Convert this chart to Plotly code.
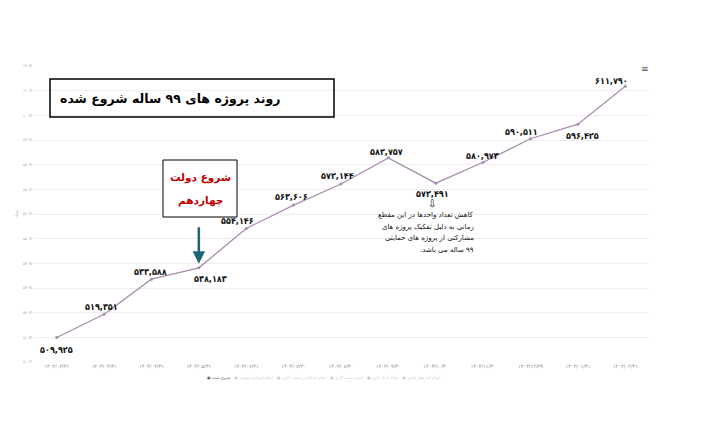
import plotly.graph_objects as go

# data
dates = ['۱۴۰۳/۰۲/۳۱', '۱۴۰۳/۰۳/۳۱', '۱۴۰۳/۰۴/۳۱', '۱۴۰۳/۰۵/۳۱', '۱۴۰۳/۰۶/۳۱',
         '۱۴۰۳/۰۷/۳۰', '۱۴۰۳/۰۸/۳۰', '۱۴۰۳/۰۹/۳۰', '۱۴۰۳/۱۰/۳۰', '۱۴۰۳/۱۱/۳۰',
         '۱۴۰۳/۱۲/۲۹', '۱۴۰۴/۰۱/۳۱', '۱۴۰۴/۰۲/۳۱']
started = [509925, 519351, 533588, 538183, 554146, 563606, 572144,
           582757, 572491, 580973, 590511, 596425, 611790]
series_name = 'شروع شده'
hidden_series = ['اتمام قولنامه نویسی', 'اتمام اسکلت و سفت کاری', 'اتمام سفت کاری',
                 'اتمام نازک کاری', 'اتمام لایه های پایانی']
y_ticks = list(range(500000, 620001, 10000))
note_lines = ['کاهش تعداد واحدها در این مقطع', 'زمانی به دلیل تفکیک پروژه های',
              'مشارکتی از پروژه های حمایتی', '۹۹ ساله می باشد.']

# label offsets (px) for each data label
label_shift = [(0, -12), (-3, 7), (-1, 7), (12, -11), (-9, 7), (-2, 8), (-4, 8),
               (-2, 6), (-3, -11), (-1, 6), (-9, 7), (5, -12), (-14, 5)]

FA = str.maketrans('0123456789', '۰۱۲۳۴۵۶۷۸۹')
def fa(n):
    return f'{n:,}'.translate(FA)

RLM = '\u200f'

# plot area on screen (page is drawn 8px in from the corner)
OFF = 8
L, R, T, B = 33, 649, 66, 362
def px(x):
    return (x - L) / (R - L)
def py(y):
    return (B - y) / (B - T)

FONT = 'DejaVu Sans'
NUMFONT = 'DejaVu Sans Condensed, DejaVu Sans'
LINE = '#a98bb0'

fig = go.Figure()
fig.add_trace(go.Scatter(x=dates, y=started, mode='lines+markers', name=series_name,
                         line=dict(color=LINE, width=1.3),
                         marker=dict(color=LINE, size=3)))

ann = []
for i, (d, v) in enumerate(zip(dates, started)):
    ann.append(dict(x=d, y=v, xref='x', yref='y', text='<b>' + fa(v) + '</b>',
                    showarrow=False, xshift=label_shift[i][0], yshift=label_shift[i][1],
                    xanchor='center', yanchor='middle',
                    font=dict(family=NUMFONT, size=9, color='#111')))

# title box
ann.append(dict(x=px(170), y=py(98), xref='paper', yref='paper', showarrow=False,
                xanchor='center', yanchor='middle',
                text='<b>روند پروژه های ۹۹ ساله شروع شده</b>',
                font=dict(family=FONT, size=12.5, color='#000')))

# 14th government box
for txt, yy in [('شروع دولت', 177), ('چهاردهم', 201)]:
    ann.append(dict(x=px(200), y=py(yy), xref='paper', yref='paper', showarrow=False,
                    xanchor='center', yanchor='middle', text='<b>' + txt + '</b>',
                    font=dict(family=FONT, size=10.5, color='#c00000')))
ann.append(dict(x=dates[3], y=started[3], xref='x', yref='y', text='', showarrow=True,
                ax=0, ay=-42, arrowhead=2, arrowsize=1, arrowwidth=2.5,
                arrowcolor='#1f6477', standoff=4))

# note on the dip
ann.append(dict(x=px(432), y=py(203), xref='paper', yref='paper', showarrow=False,
                xanchor='center', yanchor='middle',
                text='⇩', font=dict(family=FONT, size=10, color='#000')))
for i, line in enumerate(note_lines):
    ann.append(dict(x=px(476), y=py(215 + 11.5 * i), xref='paper', yref='paper',
                    showarrow=False, xanchor='right', yanchor='middle',
                    text=RLM + line + RLM,
                    font=dict(family=FONT, size=7, color='#111')))

# menu icon
ann.append(dict(x=px(645), y=py(69), xref='paper', yref='paper', showarrow=False,
                xanchor='center', yanchor='middle',
                text='≡', font=dict(family=FONT, size=9, color='#555')))

# legend row (hidden series greyed out)
items = ['<span style="color:#666">● ' + series_name + '</span>\u200e']
items += ['<span style="color:#ccc">● ' + n + '</span>\u200e' for n in hidden_series]
ann.append(dict(x=px(205), y=py(378), xref='paper', yref='paper', showarrow=False,
                xanchor='left', yanchor='middle', text='   '.join(items),
                font=dict(family=FONT, size=4, color='#888')))

fig.update_layout(
    width=720, height=422,
    margin=dict(l=L - OFF, r=720 - R + OFF, t=T - OFF, b=422 - B + OFF),
    paper_bgcolor='white', plot_bgcolor='white',
    annotations=ann,
    shapes=[dict(type='rect', xref='paper', yref='paper',
                 x0=px(50), x1=px(334), y0=py(117), y1=py(79),
                 line=dict(color='#000', width=1.5), fillcolor='rgba(0,0,0,0)'),
            dict(type='rect', xref='paper', yref='paper',
                 x0=px(163), x1=px(237), y0=py(217), y1=py(160),
                 line=dict(color='#000', width=1), fillcolor='white', layer='above')],
    showlegend=False,
    xaxis=dict(type='category', range=[-0.5, len(dates) - 0.5], showgrid=False,
               showline=False, zeroline=False, ticks='', automargin=False, tickangle=0,
               tickfont=dict(family=FONT, size=5, color='#888')),
    yaxis=dict(range=[500000, 620000], tickvals=y_ticks, automargin=False,
               ticktext=[fa(v // 1000) + 'K' for v in y_ticks],
               gridcolor='#eeeeee', zeroline=False, showline=False,
               tickfont=dict(family=FONT, size=4, color='#aaa'),
               title=dict(text='تعداد', font=dict(family=FONT, size=4, color='#aaa'),
                          standoff=4)),
)

fig.write_html('out.html')
